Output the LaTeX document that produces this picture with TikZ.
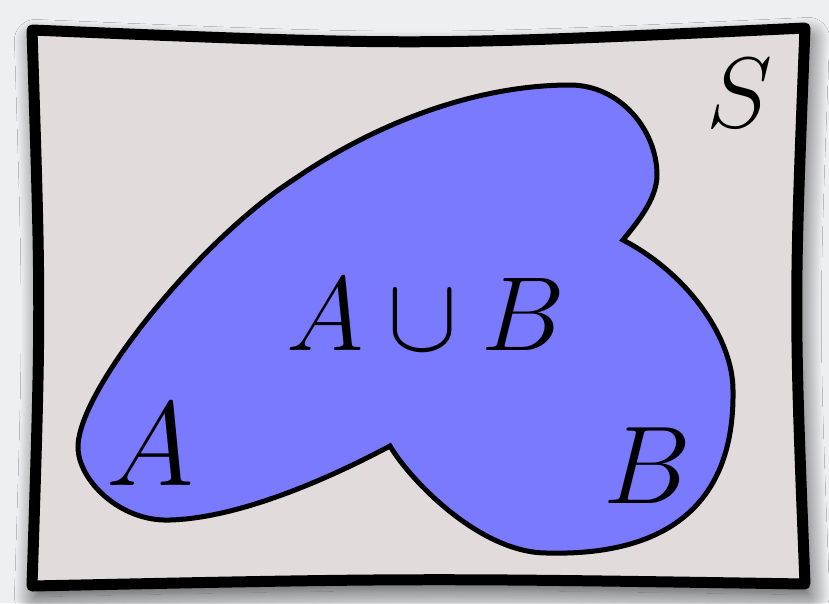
\documentclass[tikz,border=0pt]{standalone}
\usepackage{fix-cm}
\usetikzlibrary{shadows.blur}

\definecolor{backgray}{RGB}{238,239,242}
\definecolor{setgray}{RGB}{226,219,219}
\definecolor{setblue}{RGB}{122,122,255}

\begin{document}
\begin{tikzpicture}[x=0.02cm,y=-0.02cm,
    frame/.style={line width=0.22cm, fill=setgray, line join=round,
        blur shadow={shadow xshift=2pt, shadow yshift=-6pt,
            shadow blur radius=12pt, shadow blur steps=25,
            shadow opacity=75}},
    blob/.style={line width=0.1cm, fill=setblue, line join=miter},
    setlabel/.style={anchor=base, inner sep=0pt}]

    % Background
    \fill[backgray] (0,0) rectangle (829,603);
    \useasboundingbox (0,0) rectangle (829,603);

    % Universe S
    \draw[frame] (32,30) .. controls (418,46) .. (805,28)
        .. controls (794,306) .. (805,584)
        .. controls (418,578) .. (32,586)
        .. controls (41,308) .. cycle;

    % A union B: the A part, then the B part
    \draw[blob] (390,446) .. controls (330,478) and (240,518) .. (170,520)
        .. controls (120,522) and (78,480) .. (78,447)
        .. controls (78,390) and (200,240) .. (293,180)
        .. controls (380,120) and (480,85) .. (570,85)
        .. controls (620,85) and (657,130) .. (657,175)
        .. controls (657,200) and (635,225) .. (623,240)
        .. controls (690,275) and (733,340) .. (733,390)
        .. controls (735,510) and (660,556) .. (547,553)
        .. controls (480,553) and (410,480) .. (390,446) -- cycle;

    % Labels
    \node[setlabel] (s) at (740,127) {\fontsize{57}{57}\selectfont$S$};
    \node[setlabel] (aub) at (426,350) {\fontsize{60}{60}\selectfont$A\cup B$};
    \node[setlabel] (a) at (150,485) {\fontsize{68}{68}\selectfont$A$};
    \node[setlabel] (b) at (647,503) {\fontsize{63}{63}\selectfont$B$};
\end{tikzpicture}
\end{document}
